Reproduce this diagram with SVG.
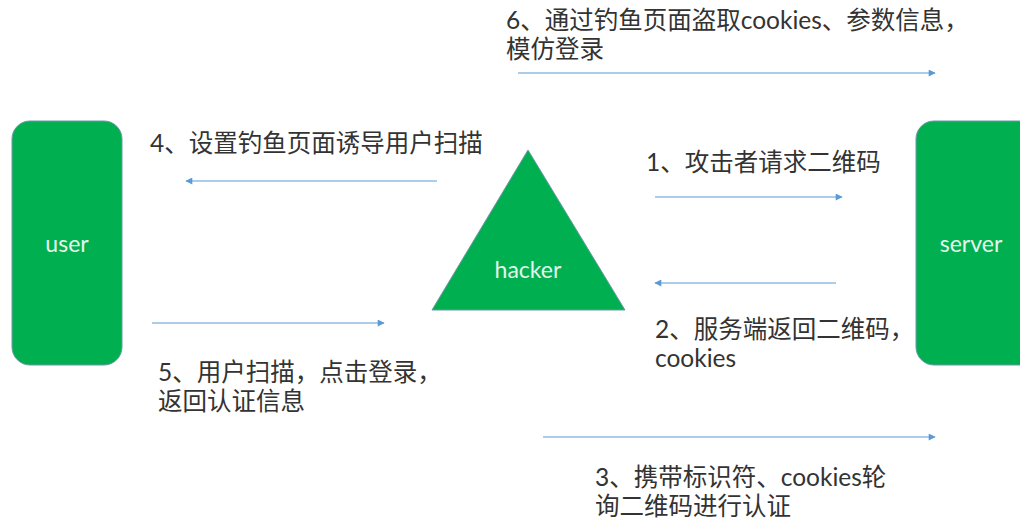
<svg xmlns="http://www.w3.org/2000/svg" width="1020" height="518" viewBox="0 0 1020 518">
<style>
.node{fill:#00b050;stroke:#6f97a8;stroke-width:1}
.nl{font-family:"Lato","Liberation Sans",sans-serif;font-size:23px;fill:#e6f5ea;text-anchor:middle}
.lbl{font-family:"Lato","Noto Sans CJK SC",sans-serif;font-size:24.5px;fill:#333333}
.arr{stroke:#5b9bd5;stroke-width:1.2;fill:none;marker-end:url(#ah)}
</style>
<defs>
<marker id="ah" viewBox="0 0 10 10" refX="9" refY="5" markerWidth="8" markerHeight="7" markerUnits="userSpaceOnUse" orient="auto">
<path d="M0,0 L10,5 L0,10 z" fill="#5b9bd5"/>
</marker>
</defs>
<rect width="1020" height="518" fill="#ffffff"/>
<g id="user">
<rect class="node" x="12" y="121" width="110" height="244" rx="18"/>
<text class="nl" x="67" y="252">user</text>
</g>
<g id="server">
<rect class="node" x="916" y="121" width="124" height="244" rx="18"/>
<text class="nl" x="971" y="252">server</text>
</g>
<g id="hacker">
<polygon class="node" points="528,150 432,310 625,310"/>
<text class="nl" x="528" y="278">hacker</text>
</g>
<g id="connectors">
<line class="arr" x1="518" y1="73" x2="935" y2="73"/>
<line class="arr" x1="437" y1="181" x2="186" y2="181"/>
<line class="arr" x1="655" y1="197" x2="842" y2="197"/>
<line class="arr" x1="836" y1="283" x2="655" y2="283"/>
<line class="arr" x1="152" y1="323" x2="384" y2="323"/>
<line class="arr" x1="543" y1="437" x2="935" y2="437"/>
</g>
<g id="labels">
<text class="lbl" x="506" y="29">6、通过钓鱼页面盗取cookies、参数信息，<tspan x="506" dy="28.5">模仿登录</tspan></text>
<text class="lbl" x="150" y="152">4、设置钓鱼页面诱导用户扫描</text>
<text class="lbl" x="646" y="171">1、攻击者请求二维码</text>
<text class="lbl" x="655" y="338">2、服务端返回二维码，<tspan x="655" dy="29">cookies</tspan></text>
<text class="lbl" x="158" y="381">5、用户扫描，点击登录，<tspan x="158" dy="28.5">返回认证信息</tspan></text>
<text class="lbl" x="595" y="486">3、携带标识符、cookies轮<tspan x="595" dy="28.5">询二维码进行认证</tspan></text>
</g>
</svg>
